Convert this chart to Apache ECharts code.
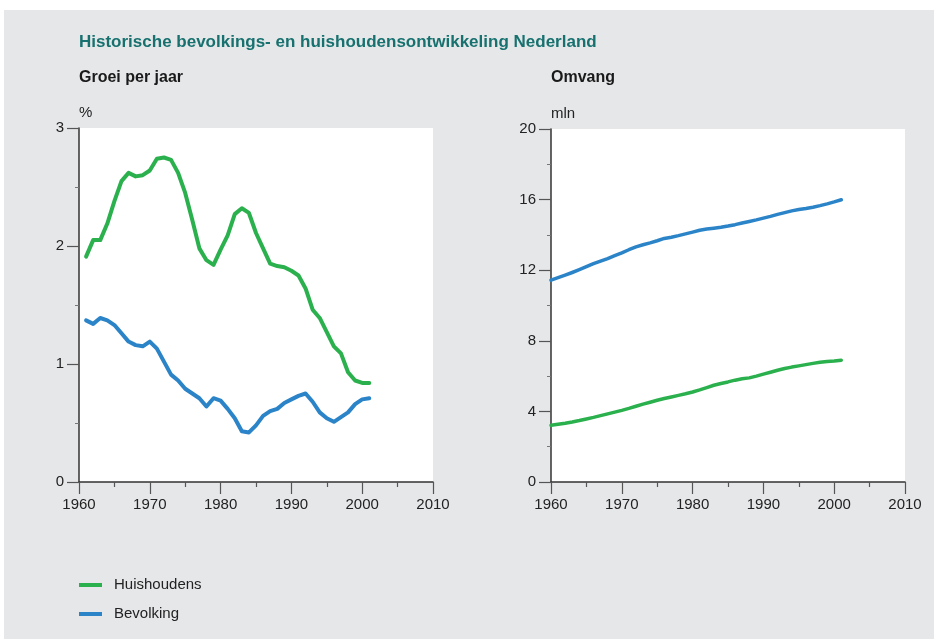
<!DOCTYPE html>
<html>
<head>
<meta charset="utf-8">
<script src="https://cdn.jsdelivr.net/npm/echarts@6/dist/echarts.min.js"></script>
<style>
  html, body { margin: 0; padding: 0; background: #fff; }
  #chart { width: 934px; height: 639px; }
</style>
</head>
<body>
<div id="chart"></div>
<script>
// jaren
var jarenGroei = [];
for (var j = 1961; j <= 2001; j++) jarenGroei.push(j);
var jarenOmvang = [];
for (var k = 1960; k <= 2001; k++) jarenOmvang.push(k);

// groei per jaar (%)
var groeiHuishoudens = [1.91, 2.05, 2.05, 2.19, 2.38, 2.55, 2.62, 2.59, 2.60, 2.64,
  2.74, 2.75, 2.73, 2.62, 2.45, 2.22, 1.98, 1.88, 1.84, 1.97,
  2.09, 2.27, 2.32, 2.28, 2.11, 1.98, 1.85, 1.83, 1.82, 1.79,
  1.75, 1.64, 1.46, 1.39, 1.27, 1.15, 1.09, 0.93, 0.86, 0.84, 0.84];
var groeiBevolking = [1.37, 1.34, 1.39, 1.37, 1.33, 1.26, 1.19, 1.16, 1.15, 1.19,
  1.13, 1.02, 0.91, 0.86, 0.79, 0.75, 0.71, 0.64, 0.71, 0.69,
  0.62, 0.54, 0.43, 0.42, 0.48, 0.56, 0.60, 0.62, 0.67, 0.70,
  0.73, 0.75, 0.68, 0.59, 0.54, 0.51, 0.55, 0.59, 0.66, 0.70, 0.71];

// omvang (mln)
var omvangBevolking = [11.44, 11.58, 11.72, 11.87, 12.03, 12.20, 12.37, 12.52, 12.66, 12.82,
  12.98, 13.16, 13.32, 13.44, 13.55, 13.67, 13.80, 13.87, 13.96, 14.06,
  14.16, 14.26, 14.33, 14.38, 14.43, 14.50, 14.58, 14.67, 14.76, 14.85,
  14.95, 15.05, 15.16, 15.26, 15.36, 15.44, 15.50, 15.57, 15.66, 15.76,
  15.87, 15.99];
var omvangHuishoudens = [3.21, 3.27, 3.33, 3.40, 3.48, 3.57, 3.66, 3.76, 3.86, 3.96,
  4.06, 4.17, 4.29, 4.41, 4.52, 4.63, 4.73, 4.82, 4.91, 5.00,
  5.10, 5.22, 5.35, 5.48, 5.58, 5.67, 5.77, 5.85, 5.90, 6.00,
  6.11, 6.22, 6.33, 6.43, 6.51, 6.58, 6.65, 6.72, 6.78, 6.83,
  6.86, 6.90];

var groen = '#2bb04e';
var blauw = '#2b84c8';
var lettertype = "'Liberation Sans Narrow', 'Liberation Sans', Arial, sans-serif";

function koppel(x, y) {
  return x.map(function (v, i) { return [v, y[i]]; });
}

function xAs(idx) {
  return {
    type: 'value', gridIndex: idx, min: 1960, max: 2010, interval: 10,
    axisLine: { lineStyle: { color: '#333', width: 1.5 } },
    axisTick: { length: 12, inside: false, lineStyle: { color: '#555', width: 1.2 } },
    minorTick: { show: true, splitNumber: 2, length: 5, lineStyle: { color: '#555', width: 1.2 } },
    splitLine: { show: false },
    axisLabel: { color: '#222', fontSize: 15, fontFamily: lettertype, margin: 15,
      formatter: function (v) { return String(v); } }
  };
}

function yAs(idx, max, interval, naam) {
  return {
    type: 'value', gridIndex: idx, min: 0, max: max, interval: interval,
    name: naam, nameLocation: 'end', nameGap: 8,
    nameTextStyle: { align: 'left', color: '#222', fontSize: 15, fontFamily: lettertype },
    axisLine: { show: true, lineStyle: { color: '#333', width: 1.5 } },
    axisTick: { show: true, length: 12, lineStyle: { color: '#555', width: 1.2 } },
    minorTick: { show: true, splitNumber: 2, length: 4, lineStyle: { color: '#777', width: 1 } },
    splitLine: { show: false },
    axisLabel: { color: '#222', fontSize: 15, fontFamily: lettertype, margin: 15 }
  };
}

function lijn(naam, kleur, data, idx, dikte) {
  return {
    name: naam, type: 'line', xAxisIndex: idx, yAxisIndex: idx,
    data: data, showSymbol: false, symbol: 'none',
    lineStyle: { color: kleur, width: dikte, cap: 'round', join: 'round' },
    itemStyle: { color: kleur }
  };
}

var optie = {
  backgroundColor: '#fff',
  animation: false,
  graphic: [{
    type: 'rect', left: 4, top: 10, z: -10,
    shape: { width: 930, height: 629 },
    style: { fill: '#e6e7e9' }
  }],
  title: [
    { text: 'Historische bevolkings- en huishoudensontwikkeling Nederland', left: 74, top: 29,
      textStyle: { color: '#17716f', fontSize: 17, fontWeight: 'bold', fontFamily: lettertype } },
    { text: 'Groei per jaar', left: 74, top: 65,
      textStyle: { color: '#1a1a1a', fontSize: 16, fontWeight: 'bold', fontFamily: lettertype } },
    { text: 'Omvang', left: 546, top: 65,
      textStyle: { color: '#1a1a1a', fontSize: 16, fontWeight: 'bold', fontFamily: lettertype } }
  ],
  legend: {
    orient: 'vertical', left: 79, top: 577, padding: 0,
    itemWidth: 23, itemHeight: 4, itemGap: 13, icon: 'rect',
    data: ['Huishoudens', 'Bevolking'],
    textStyle: { color: '#222', fontSize: 15, fontFamily: lettertype, lineHeight: 16, padding: [0, 0, 0, 7] }
  },
  grid: [
    { left: 79, top: 128, width: 354, height: 354, show: true, backgroundColor: '#fff', borderWidth: 0 },
    { left: 551, top: 129, width: 354, height: 353, show: true, backgroundColor: '#fff', borderWidth: 0 }
  ],
  xAxis: [xAs(0), xAs(1)],
  yAxis: [yAs(0, 3, 1, '%'), yAs(1, 20, 4, 'mln')],
  series: [
    lijn('Huishoudens', groen, koppel(jarenGroei, groeiHuishoudens), 0, 4),
    lijn('Bevolking', blauw, koppel(jarenGroei, groeiBevolking), 0, 4),
    lijn('Huishoudens', groen, koppel(jarenOmvang, omvangHuishoudens), 1, 3.5),
    lijn('Bevolking', blauw, koppel(jarenOmvang, omvangBevolking), 1, 3.5)
  ]
};

var grafiek = echarts.init(document.getElementById('chart'));
grafiek.setOption(optie);
</script>
</body>
</html>
